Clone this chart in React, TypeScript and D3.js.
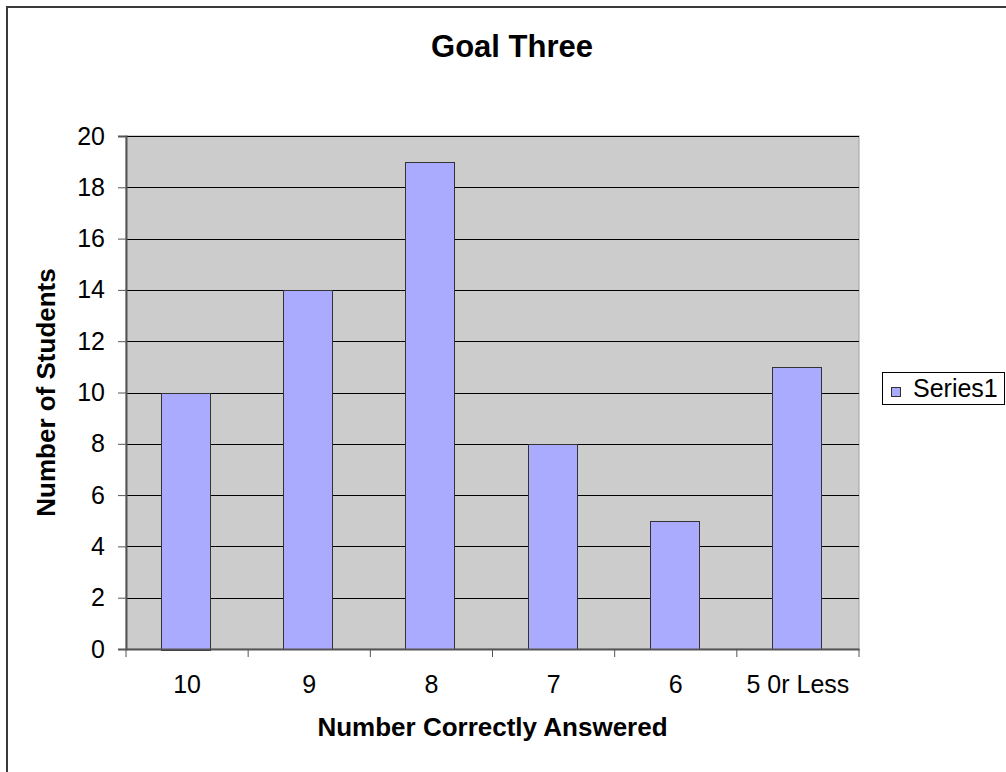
import * as d3 from 'd3';
import { useEffect, useRef } from 'react';

const categories: string[] = ["10", "9", "8", "7", "6", "5 0r Less"];
const students: number[] = [10, 14, 19, 8, 5, 11];
const yTicks: number[] = [0, 2, 4, 6, 8, 10, 12, 14, 16, 18, 20];
const seriesName = "Series1";

const W = 1006, H = 772;

const App = () => {
    const ref = useRef<SVGSVGElement>(null);

    useEffect(() => {
        const svg = d3.select(ref.current);
        svg.selectAll("*").remove();

        const margin = { top: 136, right: 147, bottom: 123, left: 126 };
        const width = W - margin.left - margin.right,
            height = H - margin.top - margin.bottom;
        const font = "Arial, 'Liberation Sans', sans-serif";

        // outer chart frame (only top/left visible)
        svg.append("rect")
            .attr("x", 7).attr("y", 7)
            .attr("width", W + 20).attr("height", H + 20)
            .attr("fill", "#fff")
            .attr("stroke", "#3a3a3a")
            .attr("stroke-width", 2);

        const g = svg.append("g")
            .attr("transform", "translate(" + margin.left + "," + margin.top + ")");

        const x: any = d3.scaleBand().domain(categories).range([0, width]).paddingInner(0).paddingOuter(0);
        const y: any = d3.scaleLinear().domain([0, 20]).range([height, 0]);

        // plot area
        g.append("rect")
            .attr("width", width).attr("height", height)
            .attr("fill", "#cccccc")
            .attr("stroke", "#a0a0a0");

        // gridlines
        g.selectAll(".grid")
            .data(yTicks.filter(t => t > 0))
            .enter().append("line")
            .attr("x1", 0).attr("x2", width)
            .attr("y1", (d: number) => Math.round(y(d)) + 0.5)
            .attr("y2", (d: number) => Math.round(y(d)) + 0.5)
            .attr("stroke", "#000")
            .attr("stroke-width", 1);

        // bars (gap width 150%)
        const bw = x.bandwidth() / 2.5;
        g.selectAll(".bar")
            .data(students)
            .enter().append("rect")
            .attr("x", (d: number, i: number) => Math.floor(x(categories[i]) + (x.bandwidth() - bw) / 2) - 0.5)
            .attr("y", (d: number) => Math.round(y(d)) + 0.5)
            .attr("width", Math.round(bw))
            .attr("height", (d: number) => Math.round(height - y(d)))
            .attr("fill", "#aaaaff")
            .attr("stroke", "#333")
            .attr("stroke-width", 1);

        // y axis
        const yAxis = g.append("g")
            .call(d3.axisLeft(y).tickValues(yTicks).tickSize(8).tickPadding(13).tickFormat(d3.format("d")));
        yAxis.select(".domain").attr("stroke", "#555").attr("stroke-width", 2);
        yAxis.selectAll(".tick line").attr("stroke", "#555");
        yAxis.selectAll("text").style("font-family", font).style("font-size", "25px").attr("fill", "#000");

        // x axis
        const xAxis = g.append("g")
            .attr("transform", "translate(0," + height + ")")
            .call(d3.axisBottom(x).tickSize(0).tickPadding(26));
        xAxis.select(".domain").attr("stroke", "#555").attr("stroke-width", 2);
        xAxis.selectAll("text").style("font-family", font).style("font-size", "25px").attr("fill", "#000");
        xAxis.selectAll(".sep")
            .data(d3.range(categories.length + 1))
            .enter().append("line")
            .attr("x1", (i: number) => i * x.step()).attr("x2", (i: number) => i * x.step())
            .attr("y1", 0).attr("y2", 8)
            .attr("stroke", "#555");

        // titles
        svg.append("text")
            .attr("x", 512).attr("y", 57)
            .attr("text-anchor", "middle")
            .style("font-family", font).style("font-size", "31px").style("font-weight", "bold")
            .text("Goal Three");
        svg.append("text")
            .attr("x", margin.left + width / 2).attr("y", 736)
            .attr("text-anchor", "middle")
            .style("font-family", font).style("font-size", "26px").style("font-weight", "bold")
            .text("Number Correctly Answered");
        svg.append("text")
            .attr("transform", "translate(55," + (margin.top + height / 2) + ")rotate(-90)")
            .attr("text-anchor", "middle")
            .style("font-family", font).style("font-size", "26px").style("font-weight", "bold")
            .text("Number of Students");

        // legend
        const lg = svg.append("g").attr("transform", "translate(882,372)");
        lg.append("rect").attr("x", 0.5).attr("y", 0.5).attr("width", 122).attr("height", 32)
            .attr("fill", "#fff").attr("stroke", "#000");
        lg.append("rect").attr("x", 9.5).attr("y", 15.5).attr("width", 9).attr("height", 9)
            .attr("fill", "#aaaaff").attr("stroke", "#333");
        lg.append("text").attr("x", 31).attr("y", 25)
            .style("font-family", font).style("font-size", "25px")
            .text(seriesName);
    }, []);

    return (
        <svg ref={ref} width={W} height={H} style={{ position: "absolute", left: 0, top: 0, display: "block" }} />
    );
};

export default App;
